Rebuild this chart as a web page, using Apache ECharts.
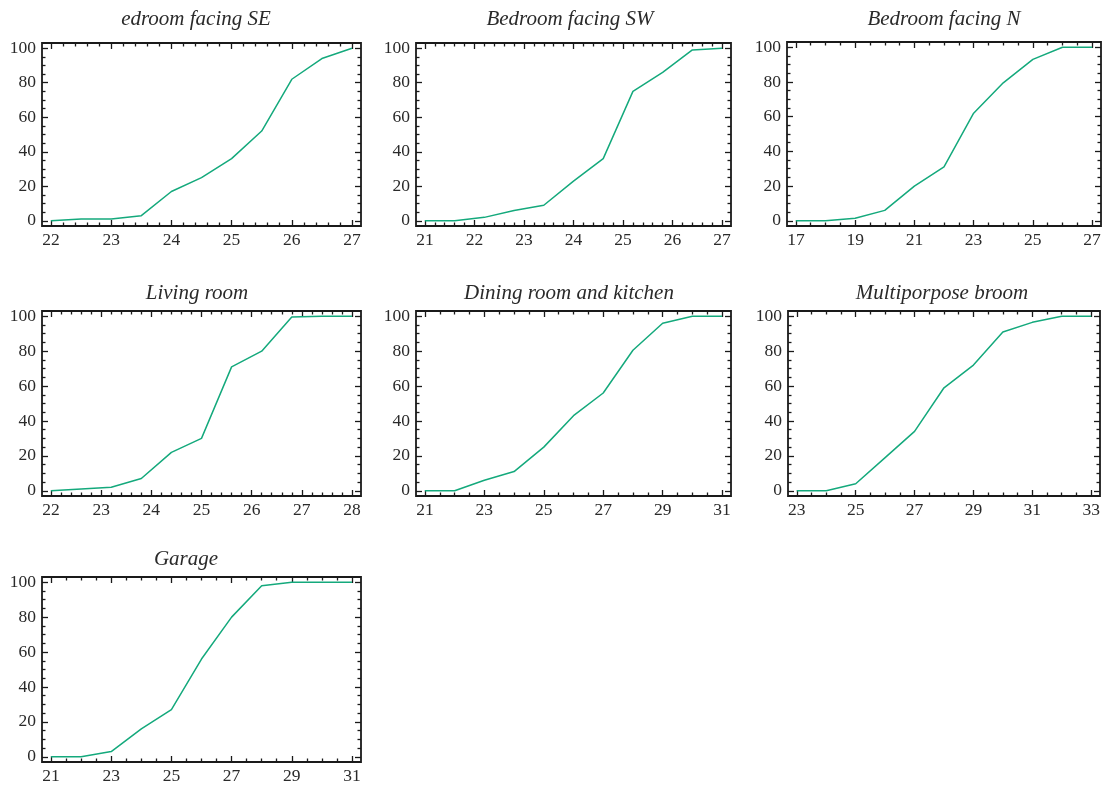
<!DOCTYPE html>
<html>
<head>
<meta charset="utf-8">
<script src="https://cdn.jsdelivr.net/npm/echarts@6/dist/echarts.min.js"></script>
<style>
html, body { margin: 0; padding: 0; background: #fff; }
#chart { width: 1105px; height: 787px; }
</style>
</head>
<body>
<div id="chart"></div>
<script>
// panel titles (as printed)
var titles = ["edroom facing SE", "Bedroom facing SW", "Bedroom facing N", "Living room",
  "Dining room and kitchen", "Multiporpose broom", "Garage"];

// temperature (x) and cumulative percentage (y) for each room
var tempSE = [22, 22.5, 23, 23.5, 24, 24.5, 25, 25.5, 26, 26.5, 27];
var pctSE = [0, 1, 1, 3, 17, 25, 36, 52, 82, 94, 100];
var tempSW = [21, 21.6, 22.2, 22.8, 23.4, 24, 24.6, 25.2, 25.8, 26.4, 27];
var pctSW = [0, 0, 2, 6, 9, 23, 36, 75, 86, 99, 100];
var tempN = [17, 18, 19, 20, 21, 22, 23, 24, 25, 26, 27];
var pctN = [0, 0, 1.5, 6, 20, 31, 62, 79.5, 93, 100, 100];
var tempLiving = [22, 22.6, 23.2, 23.8, 24.4, 25, 25.6, 26.2, 26.8, 27.4, 28];
var pctLiving = [0, 1, 2, 7, 22, 30, 71, 80, 99.5, 100, 100];
var tempDining = [21, 22, 23, 24, 25, 26, 27, 28, 29, 30, 31];
var pctDining = [0, 0, 6, 11, 25, 43, 56, 80.5, 96, 100, 100];
var tempMulti = [23, 24, 25, 26, 27, 28, 29, 30, 31, 32, 33];
var pctMulti = [0, 0, 4, 19, 34, 59, 72, 91, 96.5, 100, 100];
var tempGarage = [21, 22, 23, 24, 25, 26, 27, 28, 29, 30, 31];
var pctGarage = [0, 0, 3, 16, 27, 56, 80, 98, 100, 100, 100];

// tick labels
var xTicksSE = [22, 23, 24, 25, 26, 27];
var xTicksSW = [21, 22, 23, 24, 25, 26, 27];
var xTicksN = [17, 19, 21, 23, 25, 27];
var xTicksLiving = [22, 23, 24, 25, 26, 27, 28];
var xTicksDining = [21, 23, 25, 27, 29, 31];
var xTicksMulti = [23, 25, 27, 29, 31, 33];
var xTicksGarage = [21, 23, 25, 27, 29, 31];
var yTicks = [0, 20, 40, 60, 80, 100];

var temps = [tempSE, tempSW, tempN, tempLiving, tempDining, tempMulti, tempGarage];
var pcts = [pctSE, pctSW, pctN, pctLiving, pctDining, pctMulti, pctGarage];
var xTicks = [xTicksSE, xTicksSW, xTicksN, xTicksLiving, xTicksDining, xTicksMulti, xTicksGarage];

// frame boxes: left, top, width, height, title centre x, title top
var layout = [
  [42, 43, 319, 183, 196, 9],
  [416, 43, 315, 183, 570, 9],
  [787, 42, 314, 184, 944, 9],
  [42, 311, 319, 185, 197, 283],
  [416, 311, 315, 185, 569, 283],
  [788, 311, 312, 185, 942, 283],
  [42, 577, 319, 185, 186, 549]
];

var frameColor = "#1a1a1a";
var textColor = "#2a2a2a";
var font = "Liberation Serif";

function minorTicks(min, max, step, majors) {
  var out = [];
  var start = Math.ceil(min / step - 1e-9);
  var end = Math.floor(max / step + 1e-9);
  for (var k = start; k <= end; k++) {
    var v = Math.round(k * step * 1000) / 1000;
    var isMajor = majors.some(function (m) { return Math.abs(m - v) < 1e-6; });
    if (!isMajor) out.push(v);
  }
  return out;
}

function makeAxis(gridIndex, position, min, max, values, showLabel, tickLen, margin) {
  return {
    type: "value",
    gridIndex: gridIndex,
    position: position,
    offset: 0,
    min: min,
    max: max,
    axisLine: { show: false, onZero: false },
    splitLine: { show: false },
    axisTick: {
      show: true,
      inside: true,
      length: tickLen,
      customValues: values,
      lineStyle: { color: frameColor, width: 1.3 }
    },
    axisLabel: {
      show: showLabel,
      customValues: values,
      margin: margin,
      color: textColor,
      fontFamily: font,
      fontSize: 17.5
    }
  };
}

var option = {
  animation: false,
  backgroundColor: "#fff",
  title: [],
  grid: [],
  xAxis: [],
  yAxis: [],
  series: []
};

for (var i = 0; i < 7; i++) {
  var L = layout[i];
  var xs = temps[i];
  var span = xs[xs.length - 1] - xs[0];
  var xmin = xs[0] - 0.03 * span;
  var xmax = xs[xs.length - 1] + 0.03 * span;
  var xMinor = minorTicks(xmin, xmax, xTicks[i][1] - xTicks[i][0] === 1 ? 0.2 : 0.5, xTicks[i]);
  var yMinor = minorTicks(-3, 103, 5, yTicks);

  option.title.push({
    text: titles[i],
    left: L[4],
    top: L[5],
    textAlign: "center",
    padding: 0,
    textStyle: { fontFamily: font, fontStyle: "italic", fontWeight: "normal", fontSize: 21, color: textColor }
  });

  option.grid.push({
    left: L[0], top: L[1], width: L[2], height: L[3],
    show: true, borderColor: frameColor, borderWidth: 1.8, backgroundColor: "transparent"
  });

  option.xAxis.push(makeAxis(i, "bottom", xmin, xmax, xTicks[i], true, 6, 5));
  option.xAxis.push(makeAxis(i, "top", xmin, xmax, xTicks[i], false, 6, 5));
  option.xAxis.push(makeAxis(i, "bottom", xmin, xmax, xMinor, false, 3.5, 5));
  option.xAxis.push(makeAxis(i, "top", xmin, xmax, xMinor, false, 3.5, 5));

  option.yAxis.push(makeAxis(i, "left", -3, 103, yTicks, true, 6, 6));
  option.yAxis.push(makeAxis(i, "right", -3, 103, yTicks, false, 6, 6));
  option.yAxis.push(makeAxis(i, "left", -3, 103, yMinor, false, 3.5, 6));
  option.yAxis.push(makeAxis(i, "right", -3, 103, yMinor, false, 3.5, 6));

  option.series.push({
    name: titles[i],
    type: "line",
    xAxisIndex: i * 4,
    yAxisIndex: i * 4,
    showSymbol: false,
    lineStyle: { color: "#14a97c", width: 1.5 },
    data: xs.map(function (x, k) { return [x, pcts[i][k]]; })
  });
}

var myChart = echarts.init(document.getElementById("chart"));
myChart.setOption(option);
</script>
</body>
</html>
